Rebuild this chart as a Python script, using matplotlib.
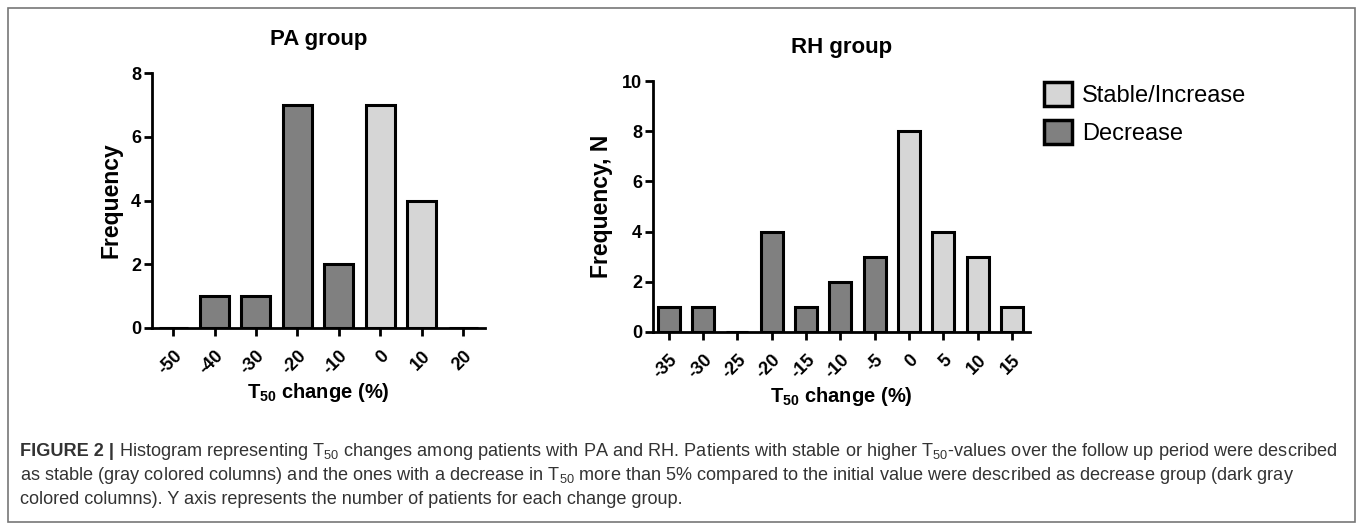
import matplotlib
matplotlib.use("Agg")
import matplotlib.pyplot as plt
from matplotlib.patches import Patch, Rectangle

plt.rcParams["font.family"] = ["Liberation Sans", "DejaVu Sans"]
plt.rcParams["mathtext.fontset"] = "custom"
plt.rcParams["mathtext.rm"] = "Liberation Sans"
plt.rcParams["mathtext.bf"] = "Liberation Sans:bold"
plt.rcParams["mathtext.default"] = "regular"

# ---------- data ----------
pa_bins = [-50, -40, -30, -20, -10, 0, 10, 20]
pa_counts = [0, 1, 1, 7, 2, 7, 4, 0]
rh_bins = [-35, -30, -25, -20, -15, -10, -5, 0, 5, 10, 15]
rh_counts = [1, 1, 0, 4, 1, 2, 3, 8, 4, 3, 1]
legend_labels = ["Stable/Increase", "Decrease"]

STABLE = "#d6d6d6"
DECREASE = "#808080"

W, H = 1357, 523
fig = plt.figure(figsize=(W / 100, H / 100), dpi=100)


def px_axes(x0, y0, x1, y1):
    # pixel box (top-left origin) -> figure fraction
    return fig.add_axes([x0 / W, 1 - y1 / H, (x1 - x0) / W, (y1 - y0) / H])


def draw_hist(ax, bins, counts, width, xlim, ylim, yticks, title, ylabel):
    colors = [DECREASE if b < 0 else STABLE for b in bins]
    ax.bar(bins, counts, width=width, color=colors, edgecolor="black",
           linewidth=2.2, zorder=3)
    ax.set_xlim(*xlim)
    ax.set_ylim(*ylim)
    ax.set_xticks(bins)
    ax.set_xticklabels([str(b) for b in bins], rotation=45, ha="right",
                       rotation_mode="anchor", fontsize=13, fontweight="bold")
    ax.set_yticks(yticks)
    ax.set_yticklabels([str(t) for t in yticks], fontsize=13, fontweight="bold")
    for s in ["top", "right"]:
        ax.spines[s].set_visible(False)
    for s in ["left", "bottom"]:
        ax.spines[s].set_linewidth(2.0)
    ax.tick_params(axis="both", width=2.0, length=6, direction="out", pad=2)
    ax.tick_params(axis="x", pad=8)
    ax.set_title(title, fontsize=16, fontweight="bold", pad=20)
    ax.set_ylabel(ylabel, fontsize=16.5, fontweight="bold", labelpad=6)
    ax.set_xlabel(r"$\mathbf{T_{50}}$ change (%)", fontsize=14.5,
                  fontweight="bold", labelpad=2)


ax1 = px_axes(152, 73, 485, 328)
draw_hist(ax1, pa_bins, pa_counts, 7.0, (-55.1, 25.3), (0, 8),
          [0, 2, 4, 6, 8], "PA group", "Frequency")

ax2 = px_axes(653, 81, 1030, 332)
draw_hist(ax2, rh_bins, rh_counts, 3.2, (-37.3, 17.6), (0, 10),
          [0, 2, 4, 6, 8, 10], "RH group", "Frequency, N")

# ---------- legend ----------
handles = [Patch(facecolor=STABLE, edgecolor="black", linewidth=2.5),
           Patch(facecolor=DECREASE, edgecolor="black", linewidth=2.5)]
fig.legend(handles, legend_labels, loc="upper left",
           bbox_to_anchor=(1044 / W, 1 - 82 / H), frameon=False,
           fontsize=17, handlelength=1.2, handleheight=1.2,
           handletextpad=0.4, labelspacing=0.55, borderpad=0,
           borderaxespad=0)

# ---------- frame ----------
fig.add_artist(Rectangle((8 / W, 1 / H), 1347 / W, (H - 9) / H,
                         transform=fig.transFigure, fill=False,
                         edgecolor="#777777", linewidth=1.2))

# ---------- caption ----------
cap_col = "#333333"
cap_size = 13.1
lines = [
    r"Histogram representing T$_{50}$ changes among patients with PA and RH. "
    r"Patients with stable or higher T$_{50}$-values over the follow up period were described",
    r"as stable (gray colored columns) and the ones with a decrease in T$_{50}$ more than 5% "
    r"compared to the initial value were described as decrease group (dark gray",
    r"colored columns). Y axis represents the number of patients for each change group.",
]
ys = [451, 476, 499]
t = fig.text(20 / W, 1 - ys[0] / H, "FIGURE 2 |", fontsize=cap_size,
             fontweight="bold", color=cap_col, va="center")
fig.canvas.draw()
bb = t.get_window_extent()
fig.text((bb.x1 + 5) / W, 1 - ys[0] / H, lines[0], fontsize=cap_size,
         color=cap_col, va="center")
for y, txt in zip(ys[1:], lines[1:]):
    fig.text(20 / W, 1 - y / H, txt, fontsize=cap_size, color=cap_col,
             va="center")

fig.savefig("out.png", dpi=100)
